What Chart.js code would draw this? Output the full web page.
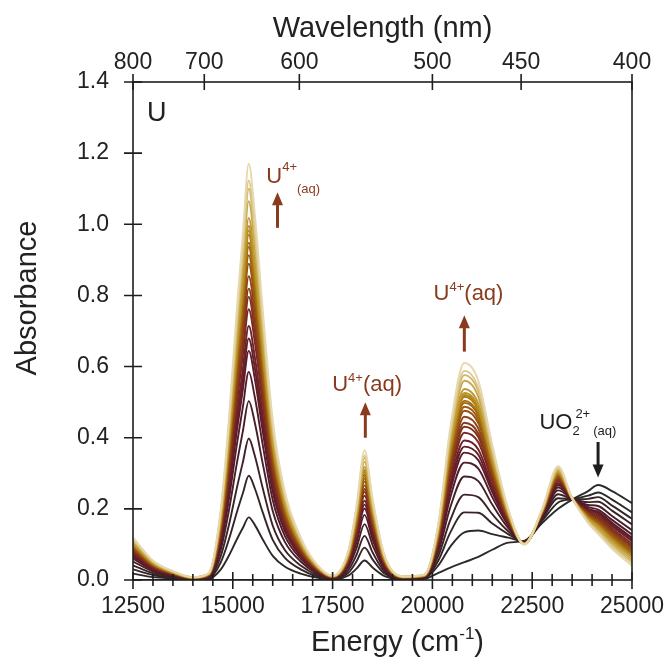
<!DOCTYPE html>
<html lang="en">
<head>
    <meta charset="UTF-8">
    <title>U spectra</title>
    <script src="https://cdn.jsdelivr.net/npm/chart.js"></script>
    <style>
        body { margin: 0; background: #fff; }
        canvas { display: block; }
    </style>
</head>
<body>
    <canvas id="chart" width="672" height="662"></canvas>

    <script>
        // energy grid (cm-1) shared by all spectra
        const energy = [12500, 13000, 13500, 14000, 14400, 14700, 14900, 15100, 15250, 15400, 15550, 15750, 16000, 16300, 16700, 17100, 17500, 17900, 18100, 18300, 18500, 18800, 19300, 19800, 20150, 20450, 20800, 21150, 21500, 21900, 22300, 22750, 23150, 23500, 23900, 24150, 24500, 25000];
        const wavelengthTicks = [800, 700, 600, 500, 450, 400];
        const absorbanceTicks = [0, 0.2, 0.4, 0.6, 0.8, 1.0, 1.2, 1.4];

        // absorbance spectra, first (UO2 2+) to last (U4+)
        const spec00 = [0,0,0,0,0,0,0,0,0,0,0,0,0,0,0,0,0,0,0,0,0,0,0, 0.003,0.02,0.035,0.05,0.065,0.085,0.105,0.11,0.16,0.2,0.226,0.25,0.267,0.25,0.216];
        const spec01 = [0.018,0.008,0.004,0.001,0.003,0.03,0.068,0.114,0.146,0.176,0.155,0.114,0.068,0.038,0.018,0.007,0.002,0.013,0.032,0.055,0.035,0.011,0.002, 0.005,0.041,0.094,0.134,0.139,0.129,0.119,0.109,0.166,0.218,0.227,0.237,0.246,0.226,0.19];
        const spec02 = [0.03,0.014,0.006,0.002,0.005,0.05,0.113,0.19,0.243,0.293,0.258,0.19,0.113,0.063,0.03,0.011,0.003,0.021,0.053,0.091,0.058,0.018,0.003, 0.006,0.055,0.134,0.19,0.189,0.159,0.129,0.108,0.17,0.23,0.227,0.228,0.233,0.209,0.172];
        const spec03 = [0.041,0.019,0.009,0.003,0.007,0.068,0.153,0.258,0.33,0.398,0.35,0.258,0.153,0.085,0.041,0.015,0.004,0.029,0.071,0.124,0.078,0.024,0.003, 0.007,0.068,0.169,0.24,0.233,0.185,0.137,0.107,0.174,0.241,0.227,0.219,0.22,0.195,0.156];
        const spec04 = [0.052,0.024,0.011,0.003,0.009,0.086,0.194,0.327,0.417,0.503,0.443,0.327,0.194,0.108,0.052,0.019,0.005,0.037,0.09,0.157,0.099,0.03,0.004, 0.008,0.08,0.205,0.291,0.278,0.212,0.146,0.106,0.177,0.252,0.228,0.211,0.208,0.18,0.14];
        const spec05 = [0.06,0.028,0.013,0.004,0.01,0.1,0.225,0.38,0.485,0.585,0.515,0.38,0.225,0.125,0.06,0.023,0.006,0.043,0.105,0.183,0.115,0.035,0.005, 0.009,0.09,0.233,0.33,0.313,0.233,0.153,0.105,0.18,0.26,0.228,0.205,0.198,0.169,0.128];
        const spec06 = [0.066,0.03,0.014,0.004,0.011,0.11,0.248,0.418,0.534,0.644,0.567,0.418,0.248,0.138,0.066,0.025,0.007,0.047,0.116,0.201,0.127,0.039,0.006, 0.01,0.097,0.252,0.358,0.337,0.247,0.157,0.104,0.182,0.266,0.228,0.2,0.192,0.161,0.119];
        const spec07 = [0.07,0.032,0.015,0.005,0.012,0.116,0.261,0.441,0.563,0.679,0.597,0.441,0.261,0.145,0.07,0.026,0.007,0.049,0.122,0.212,0.133,0.041,0.006, 0.01,0.101,0.264,0.375,0.352,0.256,0.16,0.104,0.183,0.27,0.228,0.198,0.188,0.156,0.114];
        const spec08 = [0.073,0.034,0.015,0.005,0.012,0.122,0.275,0.464,0.592,0.714,0.628,0.464,0.275,0.153,0.073,0.027,0.007,0.052,0.128,0.223,0.14,0.043,0.006, 0.01,0.105,0.276,0.392,0.367,0.265,0.163,0.104,0.184,0.273,0.228,0.195,0.183,0.151,0.109];
        const spec09 = [0.078,0.036,0.016,0.005,0.013,0.13,0.293,0.494,0.631,0.761,0.67,0.494,0.293,0.163,0.078,0.029,0.008,0.055,0.137,0.237,0.15,0.046,0.007, 0.011,0.111,0.292,0.414,0.387,0.277,0.167,0.103,0.186,0.278,0.229,0.191,0.178,0.145,0.102];
        const spec10 = [0.082,0.037,0.017,0.005,0.014,0.136,0.306,0.517,0.66,0.796,0.7,0.517,0.306,0.17,0.082,0.031,0.008,0.058,0.143,0.248,0.156,0.048,0.007, 0.011,0.115,0.304,0.431,0.402,0.286,0.17,0.103,0.187,0.282,0.229,0.189,0.174,0.14,0.096];
        const spec11 = [0.084,0.039,0.018,0.006,0.014,0.14,0.315,0.532,0.679,0.819,0.721,0.532,0.315,0.175,0.084,0.032,0.008,0.06,0.147,0.256,0.161,0.049,0.007, 0.011,0.118,0.312,0.442,0.412,0.292,0.172,0.103,0.188,0.284,0.229,0.187,0.171,0.137,0.093];
        const spec12 = [0.088,0.04,0.018,0.006,0.015,0.146,0.329,0.555,0.708,0.854,0.752,0.555,0.329,0.183,0.088,0.033,0.009,0.062,0.153,0.266,0.168,0.051,0.007, 0.012,0.122,0.323,0.459,0.426,0.3,0.174,0.103,0.189,0.288,0.229,0.184,0.167,0.132,0.088];
        const spec13 = [0.091,0.042,0.019,0.006,0.015,0.152,0.342,0.578,0.737,0.889,0.783,0.578,0.342,0.19,0.091,0.034,0.009,0.065,0.16,0.277,0.175,0.053,0.008, 0.012,0.126,0.335,0.476,0.441,0.309,0.177,0.102,0.19,0.291,0.229,0.182,0.163,0.127,0.082];
        const spec14 = [0.094,0.043,0.02,0.006,0.016,0.156,0.351,0.593,0.757,0.913,0.803,0.593,0.351,0.195,0.094,0.035,0.009,0.066,0.164,0.285,0.179,0.055,0.008, 0.012,0.129,0.343,0.487,0.451,0.315,0.179,0.102,0.191,0.294,0.229,0.18,0.16,0.124,0.079];
        const spec15 = [0.096,0.044,0.02,0.006,0.016,0.16,0.36,0.608,0.776,0.936,0.824,0.608,0.36,0.2,0.096,0.036,0.01,0.068,0.168,0.292,0.184,0.056,0.008, 0.013,0.132,0.351,0.498,0.461,0.321,0.181,0.102,0.192,0.296,0.229,0.178,0.157,0.12,0.075];
        const spec16 = [0.097,0.045,0.02,0.006,0.016,0.162,0.365,0.616,0.786,0.948,0.834,0.616,0.365,0.203,0.097,0.036,0.01,0.069,0.17,0.296,0.186,0.057,0.008, 0.013,0.133,0.355,0.504,0.466,0.324,0.182,0.102,0.192,0.297,0.229,0.177,0.156,0.119,0.073];
        const spec17 = [0.1,0.046,0.021,0.007,0.017,0.166,0.374,0.631,0.805,0.971,0.855,0.631,0.374,0.208,0.1,0.037,0.01,0.071,0.174,0.303,0.191,0.058,0.008, 0.013,0.136,0.363,0.515,0.476,0.33,0.184,0.102,0.193,0.3,0.229,0.175,0.153,0.116,0.07];
        const spec18 = [0.101,0.046,0.021,0.007,0.017,0.168,0.378,0.638,0.815,0.983,0.865,0.638,0.378,0.21,0.101,0.038,0.01,0.071,0.176,0.307,0.193,0.059,0.008, 0.013,0.138,0.367,0.52,0.481,0.333,0.185,0.102,0.194,0.301,0.229,0.174,0.152,0.114,0.068];
        const spec19 = [0.102,0.047,0.021,0.007,0.017,0.17,0.383,0.646,0.825,0.995,0.876,0.646,0.383,0.213,0.102,0.038,0.01,0.072,0.179,0.31,0.196,0.06,0.009, 0.013,0.139,0.371,0.526,0.486,0.336,0.186,0.101,0.194,0.302,0.229,0.173,0.151,0.112,0.066];
        const spec20 = [0.104,0.048,0.022,0.007,0.017,0.174,0.392,0.661,0.844,1.018,0.896,0.661,0.392,0.218,0.104,0.039,0.01,0.074,0.183,0.318,0.2,0.061,0.009, 0.013,0.142,0.379,0.537,0.496,0.342,0.188,0.101,0.195,0.304,0.229,0.172,0.148,0.109,0.063];
        const spec21 = [0.109,0.05,0.023,0.007,0.018,0.182,0.41,0.692,0.883,1.065,0.937,0.692,0.41,0.228,0.109,0.041,0.011,0.077,0.191,0.332,0.209,0.064,0.009, 0.014,0.147,0.394,0.56,0.515,0.353,0.191,0.101,0.196,0.309,0.23,0.168,0.142,0.103,0.056];
        const spec22 = [0.113,0.052,0.024,0.008,0.019,0.188,0.423,0.714,0.912,1.1,0.968,0.714,0.423,0.235,0.113,0.042,0.011,0.08,0.197,0.343,0.216,0.066,0.009, 0.014,0.152,0.406,0.576,0.53,0.362,0.194,0.101,0.198,0.313,0.23,0.165,0.138,0.098,0.051];
        const spec23 = [0.115,0.053,0.024,0.008,0.019,0.192,0.432,0.73,0.931,1.123,0.989,0.73,0.432,0.24,0.115,0.043,0.012,0.082,0.202,0.35,0.221,0.067,0.01, 0.015,0.154,0.414,0.588,0.54,0.368,0.196,0.1,0.198,0.315,0.23,0.164,0.135,0.094,0.047];
        const spec24 = [0.12,0.055,0.025,0.008,0.02,0.2,0.45,0.76,0.97,1.17,1.03,0.76,0.45,0.25,0.12,0.045,0.012,0.085,0.21,0.365,0.23,0.07,0.01, 0.015,0.16,0.43,0.61,0.56,0.38,0.2,0.1,0.2,0.32,0.23,0.16,0.13,0.088,0.04];

        const spectra = [spec00, spec01, spec02, spec03, spec04, spec05, spec06, spec07, spec08, spec09, spec10, spec11, spec12,
                         spec13, spec14, spec15, spec16, spec17, spec18, spec19, spec20, spec21, spec22, spec23, spec24];

        const lineColors = ['#2b2b2b','#302828','#352526','#3d2227','#461f28','#511c2a','#5b1b2a','#651d28','#6e2126','#772822',
                            '#80301e','#88391a','#8f4416','#965014','#9c5b12','#a26611','#a77011','#ac7a14','#b2851a','#b88f24',
                            '#bf9a34','#c7a74c','#d1b76a','#dcc88c','#e6d8ac'];

        const FONT = '"Liberation Sans", Arial, sans-serif';
        const INK = '#1e1e1e';
        const BROWN = '#8a3b1e';

        // draws a run of text pieces, each {t, size, dy}
        function richText(ctx, parts, x, y, color) {
            ctx.fillStyle = color;
            ctx.textBaseline = 'alphabetic';
            ctx.textAlign = 'left';
            let cx = x;
            parts.forEach(p => {
                ctx.font = p.size + 'px ' + FONT;
                if (p.dx) cx += p.dx;
                ctx.fillText(p.t, cx, y + (p.dy || 0));
                if (!p.stay) cx += ctx.measureText(p.t).width;
            });
        }

        function arrow(ctx, x, y0, y1, color) {
            // y0 tail, y1 head
            const dir = y1 < y0 ? 1 : -1;
            ctx.strokeStyle = color;
            ctx.fillStyle = color;
            ctx.lineWidth = 3;
            ctx.beginPath();
            ctx.moveTo(x, y0);
            ctx.lineTo(x, y1 + dir * 10);
            ctx.stroke();
            ctx.beginPath();
            ctx.moveTo(x, y1);
            ctx.lineTo(x - 5.5, y1 + dir * 13);
            ctx.lineTo(x + 5.5, y1 + dir * 13);
            ctx.closePath();
            ctx.fill();
        }

        const decor = {
            id: 'decor',
            afterDatasetsDraw(chart) {
                const { ctx, chartArea: a, scales: { x, y } } = chart;
                ctx.save();
                ctx.strokeStyle = INK;
                ctx.lineWidth = 1.6;
                ctx.strokeRect(a.left, a.top, a.right - a.left, a.bottom - a.top);
                ctx.beginPath();
                for (let e = 12500; e <= 25000; e += 500) {
                    const px = x.getPixelForValue(e);
                    const major = e % 2500 === 0;
                    ctx.moveTo(px, a.bottom - (major ? 8 : 6));
                    ctx.lineTo(px, a.bottom + (major ? 9 : 6));
                }
                wavelengthTicks.forEach(w => {
                    const px = x.getPixelForValue(1e7 / w);
                    ctx.moveTo(px, a.top - 8);
                    ctx.lineTo(px, a.top + 8);
                });
                absorbanceTicks.forEach(v => {
                    const py = y.getPixelForValue(v);
                    ctx.moveTo(a.left - 9, py);
                    ctx.lineTo(a.left + 9, py);
                });
                ctx.stroke();

                // axis titles
                ctx.fillStyle = '#222';
                ctx.save();
                ctx.translate(28, 298);
                ctx.rotate(-Math.PI / 2);
                ctx.font = '29px ' + FONT;
                ctx.textAlign = 'center';
                ctx.textBaseline = 'middle';
                ctx.fillText('Absorbance', 0, 0);
                ctx.restore();

                ctx.font = '29px ' + FONT;
                const w1 = ctx.measureText('Energy (cm').width;
                ctx.font = '17px ' + FONT;
                const w2 = ctx.measureText('-1').width;
                ctx.font = '29px ' + FONT;
                const w3 = ctx.measureText(')').width;
                const cx = (a.left + a.right) / 2 + 15 - (w1 + w2 + w3) / 2;
                richText(ctx, [
                    { t: 'Energy (cm', size: 29 },
                    { t: '-1', size: 17, dy: -12 },
                    { t: ')', size: 29 }
                ], cx, 651, '#222');

                // panel label
                richText(ctx, [{ t: 'U', size: 27 }], a.left + 14, a.top + 39, '#222');

                // annotations placed in data space
                const X = v => x.getPixelForValue(v);
                const Y = v => y.getPixelForValue(v);
                richText(ctx, [
                    { t: 'U', size: 22 },
                    { t: '4+', size: 13, dy: -12 },
                    { t: '(aq)', size: 13, dy: 10 }
                ], X(15840), Y(1.116), BROWN);
                arrow(ctx, X(16120), Y(0.99), Y(1.09), BROWN);

                richText(ctx, [
                    { t: 'U', size: 22 },
                    { t: '4+', size: 13, dy: -9 },
                    { t: '(aq)', size: 22 }
                ], X(17490), Y(0.53), BROWN);
                arrow(ctx, X(18320), Y(0.40), Y(0.50), BROWN);

                richText(ctx, [
                    { t: 'U', size: 22 },
                    { t: '4+', size: 13, dy: -9 },
                    { t: '(aq)', size: 22 }
                ], X(20030), Y(0.786), BROWN);
                arrow(ctx, X(20800), Y(0.642), Y(0.744), BROWN);

                richText(ctx, [
                    { t: 'UO', size: 22 },
                    { t: '2', size: 13, dy: 6, stay: true },
                    { t: '2+', size: 13, dx: 3, dy: -11 },
                    { t: '(aq)', size: 13, dx: 3, dy: 6 }
                ], X(22680), Y(0.424), INK);
                arrow(ctx, X(24150), Y(0.388), Y(0.288), INK);

                ctx.restore();
            }
        };

        const tickFont = { family: FONT, size: 23 };

        // keep the plot frame fixed regardless of label overhang
        const fixHoriz = h => s => { s.height = h; s.paddingLeft = 0; s.paddingRight = 0; };

        new Chart(document.getElementById('chart'), {
            type: 'line',
            data: {
                datasets: spectra.map((s, i) => ({
                    data: s.map((v, j) => ({ x: energy[j], y: v })),
                    borderColor: lineColors[i],
                    borderWidth: 1.9,
                    pointRadius: 0,
                    fill: false,
                    cubicInterpolationMode: 'monotone',
                    order: spectra.length - i
                }))
            },
            options: {
                responsive: false,
                animation: false,
                devicePixelRatio: 1,
                layout: { padding: { left: 0, right: 40, top: 0, bottom: 0 } },
                plugins: { legend: { display: false }, tooltip: { enabled: false } },
                scales: {
                    x: {
                        type: 'linear', position: 'bottom', min: 12500, max: 25000,
                        grid: { display: false, drawTicks: false },
                        border: { display: false },
                        ticks: { stepSize: 2500, font: tickFont, color: '#222', padding: 13, maxRotation: 0,
                                 callback: v => String(v) },
                        afterFit: fixHoriz(82)
                    },
                    x2: {
                        type: 'linear', position: 'top', min: 12500, max: 25000,
                        grid: { display: false, drawTicks: false },
                        border: { display: false },
                        afterBuildTicks: s => { s.ticks = wavelengthTicks.map(w => ({ value: 1e7 / w })); },
                        ticks: { autoSkip: false, font: tickFont, color: '#222', padding: 6, maxRotation: 0,
                                 callback: v => String(Math.round(1e7 / v)) },
                        title: { display: true, text: 'Wavelength (nm)', font: { family: FONT, size: 29 }, color: '#222',
                                 padding: { top: 12, bottom: 0 } },
                        afterFit: fixHoriz(82)
                    },
                    y: {
                        min: 0, max: 1.4,
                        grid: { display: false, drawTicks: false },
                        border: { display: false },
                        afterBuildTicks: s => { s.ticks = absorbanceTicks.map(v => ({ value: v })); },
                        ticks: { font: tickFont, color: '#222', padding: 24, callback: v => v.toFixed(1) },
                        afterFit: s => { s.width = 133; s.paddingTop = 0; s.paddingBottom = 0; }
                    }
                }
            },
            plugins: [decor]
        });
    </script>
</body>
</html>
